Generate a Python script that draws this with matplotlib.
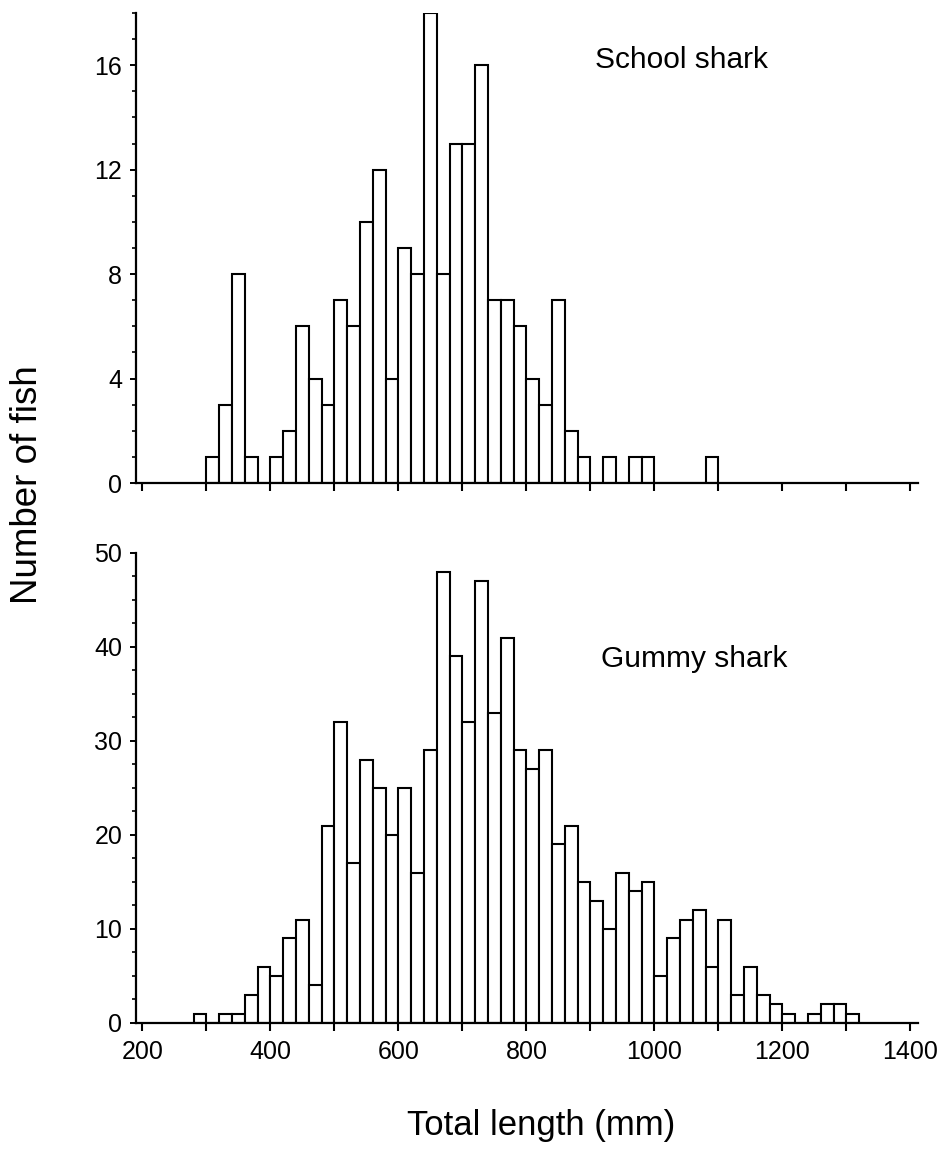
#!/usr/bin/env python3
# -*- coding: utf-8 -*-
"""Length-frequency histograms of school and gummy shark catches."""

import numpy as np
import matplotlib

matplotlib.use("Agg")
import matplotlib.pyplot as plt
from matplotlib.ticker import MultipleLocator

plt.rcParams["font.family"] = ["Liberation Sans", "DejaVu Sans"]

BIN_WIDTH = 20  # mm

# School shark: counts per 20 mm length class, first class starts at 300 mm
SCHOOL_START = 300
SCHOOL_COUNTS = [
    1, 3, 8, 1, 0, 1, 2, 6, 4, 3,
    7, 6, 10, 12, 4, 9, 8, 18, 8, 13,
    13, 16, 7, 7, 6, 4, 3, 7, 2, 1,
    0, 1, 0, 1, 1, 0, 0, 0, 0, 1,
]

# Gummy shark: counts per 20 mm length class, first class starts at 280 mm
GUMMY_START = 280
GUMMY_COUNTS = [
    1, 0, 1, 1, 3, 6, 5, 9, 11, 4,
    21, 32, 17, 28, 25, 20, 25, 16, 29, 48,
    39, 32, 47, 33, 41, 29, 27, 29, 19, 21,
    15, 13, 10, 16, 14, 15, 5, 9, 11, 12,
    6, 11, 3, 6, 3, 2, 1, 0, 1, 2,
    2, 1,
]

X_TICKS = np.arange(200, 1401, 100)
X_LABELS = [str(v) if v % 200 == 0 else "" for v in X_TICKS]


def draw_hist(ax, start, counts, ymax, minor, major, label, label_xy):
    lefts = start + BIN_WIDTH * np.arange(len(counts))
    ax.bar(lefts, counts, width=BIN_WIDTH, align="edge", color="white",
           edgecolor="black", linewidth=1.5, zorder=2)
    ax.set_xlim(190, 1412)
    ax.set_ylim(0, ymax)
    ax.set_xticks(X_TICKS)
    ax.yaxis.set_major_locator(MultipleLocator(major))
    ax.yaxis.set_minor_locator(MultipleLocator(minor))
    for side in ("top", "right"):
        ax.spines[side].set_visible(False)
    for side in ("left", "bottom"):
        ax.spines[side].set_linewidth(1.6)
    ax.tick_params(axis="x", direction="out", length=6, width=1.5, pad=6, labelsize=18)
    ax.tick_params(axis="y", which="major", direction="out", length=4, width=1.4, pad=6, labelsize=18)
    ax.tick_params(axis="y", which="minor", direction="out", length=3, width=1.2)
    ax.text(label_xy[0], label_xy[1], label, fontsize=21.5, transform=ax.transAxes,
            ha="left", va="baseline")


def main():
    fig = plt.figure(figsize=(9.4, 11.52), dpi=100)
    ax_top = fig.add_axes([0.1447, 0.5807, 0.832, 0.408])
    ax_bot = fig.add_axes([0.1447, 0.1120, 0.832, 0.408])

    draw_hist(ax_top, SCHOOL_START, SCHOOL_COUNTS, 18, 1, 4, "School shark", (0.587, 0.882))
    ax_top.set_xticklabels([])

    draw_hist(ax_bot, GUMMY_START, GUMMY_COUNTS, 50, 2.5, 10, "Gummy shark", (0.595, 0.757))
    ax_bot.set_xticklabels(X_LABELS)

    fig.text(0.029, 0.579, "Number of fish", rotation=90, fontsize=26.5,
             ha="center", va="center")
    fig.text(0.576, 0.0148, "Total length (mm)", fontsize=25,
             ha="center", va="baseline")

    fig.savefig("out.png", dpi=100)
    plt.close(fig)


if __name__ == "__main__":
    main()
